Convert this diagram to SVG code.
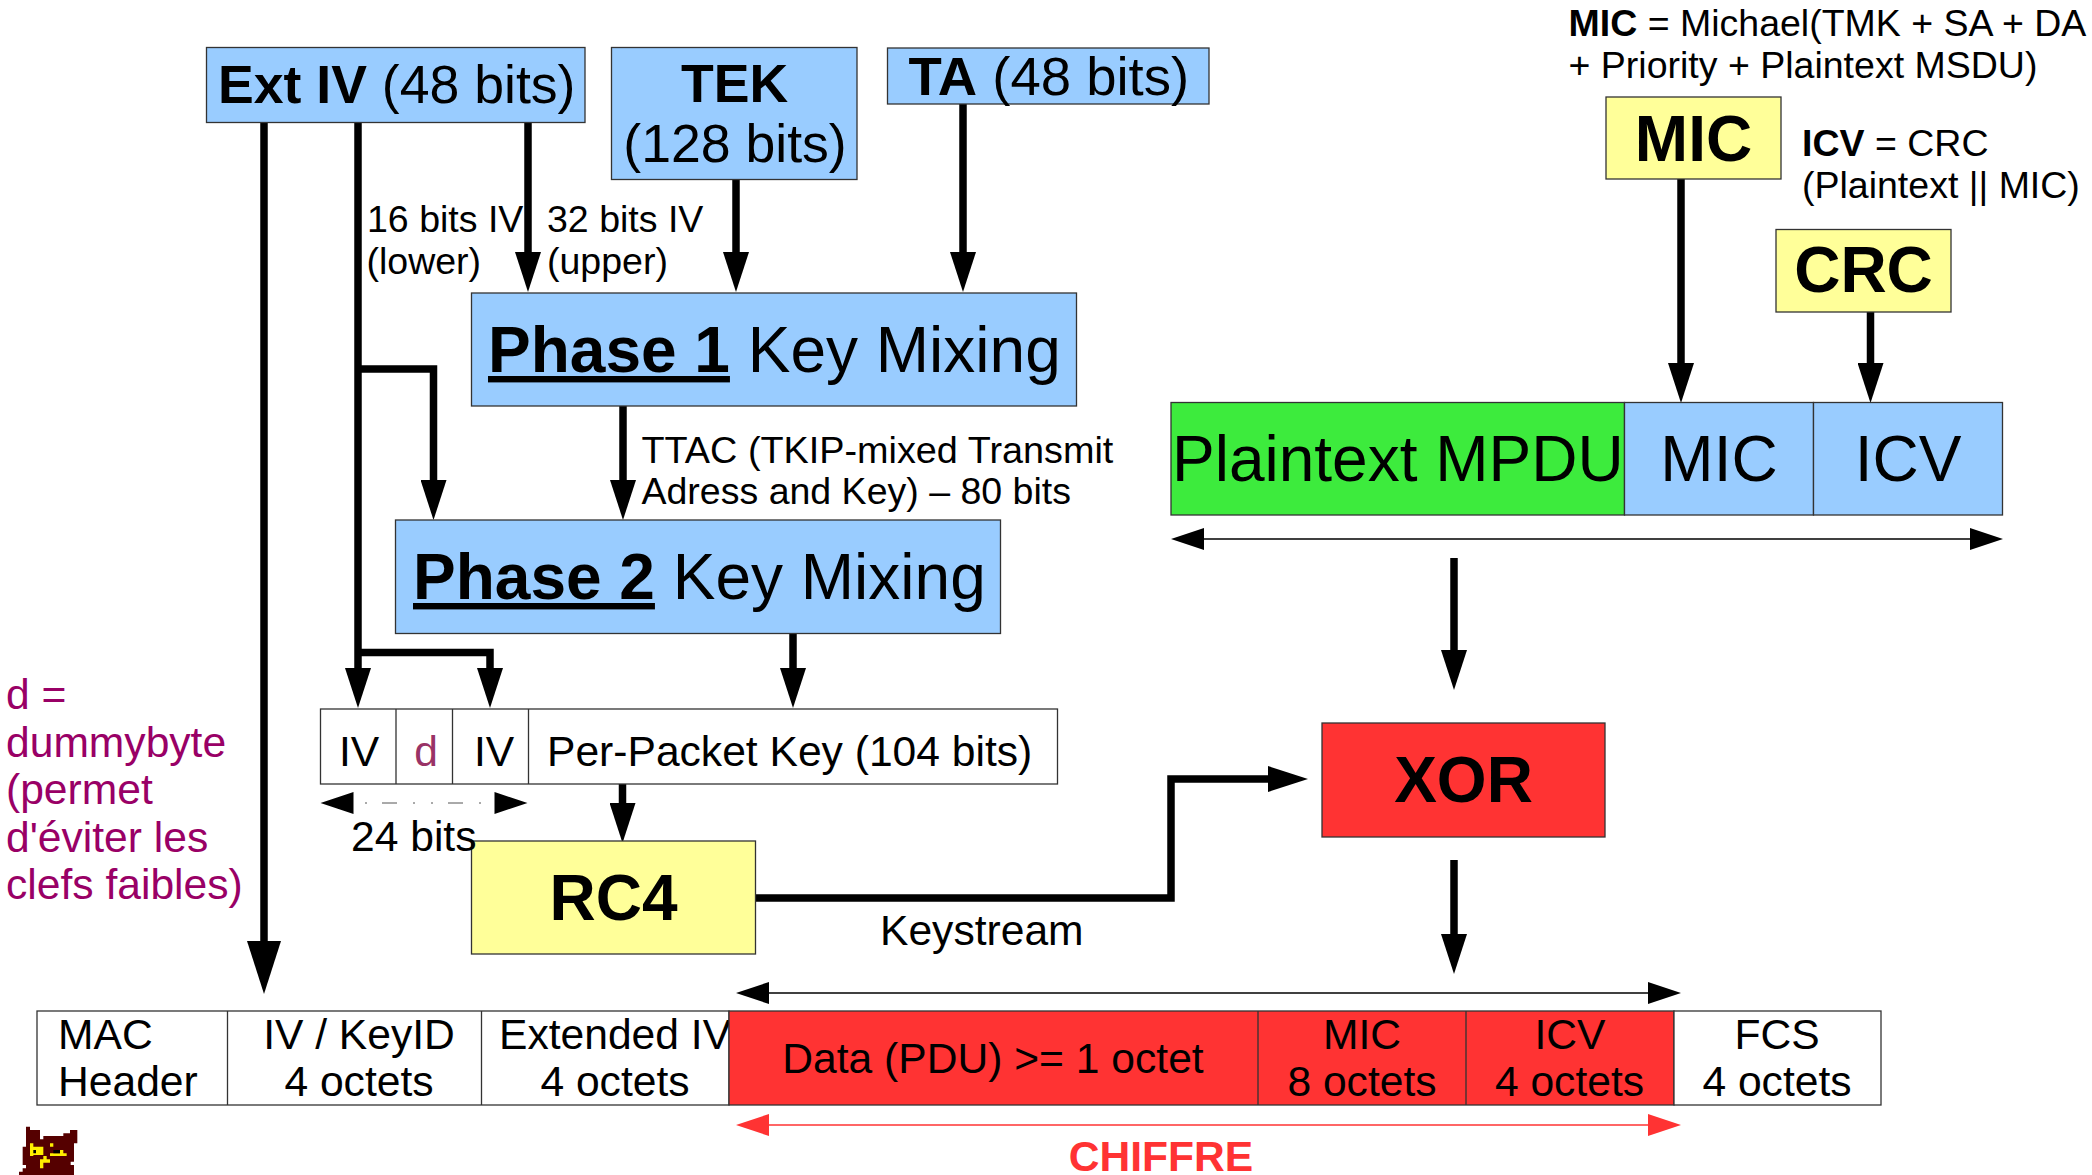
<svg xmlns="http://www.w3.org/2000/svg" width="2092" height="1175" viewBox="0 0 2092 1175">
<style>
text{font-family:"Liberation Sans",Arial,sans-serif;fill:#000}
.b{font-weight:bold}
.s37{font-size:37.500px}.s41{font-size:42.600px}.s53{font-size:53.600px}.s64{font-size:64px}
.m{text-anchor:middle}
.box{stroke:#333;stroke-width:1.3}
.blue{fill:#99ccff}.yellow{fill:#ffff99}.red{fill:#ff3333}.green{fill:#3deb3d}.white{fill:#fff}
.wire{fill:none;stroke:#000;stroke-width:7.500}
.thin{fill:none;stroke:#000;stroke-width:1.600}
</style>
<defs>
<marker id="head" markerUnits="userSpaceOnUse" markerWidth="40" markerHeight="26" viewBox="0 0 40 26" refX="0" refY="13" orient="auto"><path d="M0 0L40 13L0 26z"/></marker>
<marker id="bighead" markerUnits="userSpaceOnUse" markerWidth="53" markerHeight="34" viewBox="0 0 53 34" refX="0" refY="17" orient="auto"><path d="M0 0L53 17L0 34z"/></marker>
<marker id="dbl" markerUnits="userSpaceOnUse" markerWidth="33" markerHeight="22" viewBox="0 0 33 22" refX="0" refY="11" orient="auto-start-reverse"><path d="M0 0L33 11L0 22z"/></marker>
<marker id="dblred" markerUnits="userSpaceOnUse" markerWidth="33" markerHeight="22" viewBox="0 0 33 22" refX="0" refY="11" orient="auto-start-reverse"><path d="M0 0L33 11L0 22z" fill="#ff3333"/></marker>
</defs>
<rect width="2092" height="1175" fill="#fff"/>

<g id="packet-header">
<rect class="box white" x="37" y="1011" width="692" height="94"/>
<path class="box" d="M227.500 1011V1105M481.500 1011V1105"/>
<text class="s41" x="58" y="1048.500">MAC</text>
<text class="s41" x="58" y="1096">Header</text>
<text class="s41 m" x="359" y="1048.500">IV / KeyID</text>
<text class="s41 m" x="359" y="1096">4 octets</text>
<text class="s41" x="499" y="1048.500">Extended IV</text>
<text class="s41 m" x="615" y="1096">4 octets</text>
</g>
<g id="packet-encrypted">
<rect class="box red" x="729" y="1011" width="945" height="94"/>
<path class="box" d="M1258 1011V1105M1466 1011V1105"/>
<text class="s41 m" x="993" y="1073">Data (PDU) &gt;= 1 octet</text>
<text class="s41 m" x="1362" y="1048.500">MIC</text>
<text class="s41 m" x="1362" y="1096">8 octets</text>
<text class="s41 m" x="1570" y="1048.500">ICV</text>
<text class="s41 m" x="1569.500" y="1096">4 octets</text>
</g>
<g id="packet-fcs">
<rect class="box white" x="1674" y="1011" width="207" height="94"/>
<text class="s41 m" x="1777" y="1048.500">FCS</text>
<text class="s41 m" x="1777" y="1096">4 octets</text>
</g>

<g id="connectors">
<path class="wire" d="M264 122V941" marker-end="url(#bighead)"/>
<path class="wire" d="M358 122V668" marker-end="url(#head)"/>
<path class="wire" d="M528 122V252" marker-end="url(#head)"/>
<path class="wire" d="M736 179V252" marker-end="url(#head)"/>
<path class="wire" d="M963 104V252" marker-end="url(#head)"/>
<path class="wire" d="M358 369H433.500V480" marker-end="url(#head)"/>
<path class="wire" d="M623 406V480" marker-end="url(#head)"/>
<path class="wire" d="M358 652.500H490V668" marker-end="url(#head)"/>
<path class="wire" d="M793 634V668" marker-end="url(#head)"/>
<path class="wire" d="M622.500 784V803" marker-end="url(#head)"/>
<path class="wire" d="M755 898H1171V779H1268" marker-end="url(#head)"/>
<path class="wire" d="M1454 558V650" marker-end="url(#head)"/>
<path class="wire" d="M1454 860V934" marker-end="url(#head)"/>
<path class="wire" d="M1681 179V363" marker-end="url(#head)"/>
<path class="wire" d="M1870.500 312V363" marker-end="url(#head)"/>
<path class="thin" d="M1204 539H1970" marker-start="url(#dbl)" marker-end="url(#dbl)"/>
<path class="thin" d="M769 993H1648" marker-start="url(#dbl)" marker-end="url(#dbl)"/>
<path class="thin" d="M769 1125H1648" style="stroke:#ff3333" marker-start="url(#dblred)" marker-end="url(#dblred)"/>
<path fill="none" stroke="#555" stroke-width="1" d="M365 803h2M382 803h15M413 803h2M431 803h2M448 803h15M479 803h2"/>
<path d="M353.500 792L320.500 803L353.500 814zM494.500 792L527.500 803L494.500 814z"/>
</g>

<g id="ext-iv">
<rect class="box blue" x="206.500" y="47.500" width="378.500" height="75"/>
<text class="s53" x="218" y="103"><tspan class="b">Ext IV</tspan> (48 bits)</text>
</g>
<g id="tek">
<rect class="box blue" x="611.500" y="47.500" width="245.500" height="132"/>
<text class="s53 b m" x="734.500" y="102">TEK</text>
<text class="s53 m" x="735" y="162">(128 bits)</text>
</g>
<g id="ta">
<rect class="box blue" x="887.500" y="48" width="321.500" height="56"/>
<text x="908.500" y="95" style="font-size:54.500px"><tspan class="b">TA</tspan> (48 bits)</text>
</g>
<g id="phase1">
<rect class="box blue" x="471.500" y="293" width="605" height="113"/>
<text class="s64" x="488" y="372"><tspan class="b" text-decoration="underline">Phase 1</tspan> Key Mixing</text>
</g>
<g id="phase2">
<rect class="box blue" x="395.500" y="520" width="605" height="113.500"/>
<text class="s64" x="413" y="599"><tspan class="b" text-decoration="underline">Phase 2</tspan> Key Mixing</text>
</g>
<g id="per-packet-key">
<rect class="box white" x="320.500" y="709" width="737" height="75"/>
<path class="box" d="M396 709V784M452.500 709V784M528.500 709V784"/>
<text class="s41 m" x="359" y="766">IV</text>
<text class="s41 m" x="426" y="766" style="fill:#993366">d</text>
<text class="s41 m" x="494" y="766">IV</text>
<text class="s41" x="547" y="766">Per-Packet Key (104 bits)</text>
</g>
<g id="rc4">
<rect class="box yellow" x="471.500" y="841" width="284" height="113"/>
<text class="s64 b m" x="613.500" y="920">RC4</text>
</g>
<g id="xor">
<rect class="box red" x="1322" y="723" width="283" height="114"/>
<text class="s64 b m" x="1463.500" y="802">XOR</text>
</g>
<g id="mic-box">
<rect class="box yellow" x="1606" y="97" width="175" height="82"/>
<text class="s64 b m" x="1693.500" y="161">MIC</text>
</g>
<g id="crc-box">
<rect class="box yellow" x="1776" y="229.500" width="175" height="82.500"/>
<text class="s64 b m" x="1863.500" y="292">CRC</text>
</g>
<g id="mpdu">
<rect class="box green" x="1171" y="402.500" width="453.500" height="112.500"/>
<rect class="box blue" x="1624.500" y="402.500" width="189" height="112.500"/>
<rect class="box blue" x="1813.500" y="402.500" width="189" height="112.500"/>
<text class="s64" x="1172" y="481">Plaintext MPDU</text>
<text class="s64 m" x="1719" y="481">MIC</text>
<text class="s64 m" x="1908" y="481">ICV</text>
</g>

<g id="labels">
<text class="s37" x="367" y="232">16 bits IV</text>
<text class="s37" x="366.500" y="274">(lower)</text>
<text class="s37" x="547" y="232">32 bits IV</text>
<text class="s37" x="547" y="274">(upper)</text>
<text x="641.500" y="463" style="font-size:37.800px">TTAC (TKIP-mixed Transmit</text>
<text x="641.500" y="504" style="font-size:37.500px">Adress and Key) – 80 bits</text>
<text class="s37" x="1568.500" y="36"><tspan class="b">MIC</tspan> = Michael(TMK + SA + DA</text>
<text class="s37" x="1568.500" y="78">+ Priority + Plaintext MSDU)</text>
<text class="s37" x="1802" y="156"><tspan class="b">ICV</tspan> = CRC</text>
<text class="s37" x="1802" y="198">(Plaintext || MIC)</text>
<text class="s41" x="6" y="709" style="fill:#990066">d =</text>
<text class="s41" x="6" y="757" style="fill:#990066">dummybyte</text>
<text class="s41" x="6" y="804" style="fill:#990066">(permet</text>
<text class="s41" x="6" y="852" style="fill:#990066">d'éviter les</text>
<text class="s41" x="6" y="899" style="fill:#990066">clefs faibles)</text>
<text class="s41" x="351" y="851">24 bits</text>
<text class="s41" x="880" y="945">Keystream</text>
<text class="s41 b m" x="1161" y="1171" style="fill:#ff3333">CHIFFRE</text>
</g>

<g transform="translate(0 1110) scale(.3333)">
<path fill="#550000" d="M78 50H90V60H120V88H130V78H190V70H210V60H232V100H222V155H212V165H222V195H57V185H68V175H78V165H68V110H78z"/>
<path fill="#ffee00" d="M90 100H100V110H130V135H100V138H90zM150 100H160V110H150zM150 130H200V138H150zM180 120H190V130H180zM130 138H140V148H150V158H130V175H120V148H130z"/>
<path fill="#000" d="M100 120H108V130H100zM160 120H180V130H160z"/>
</g>
</svg>
